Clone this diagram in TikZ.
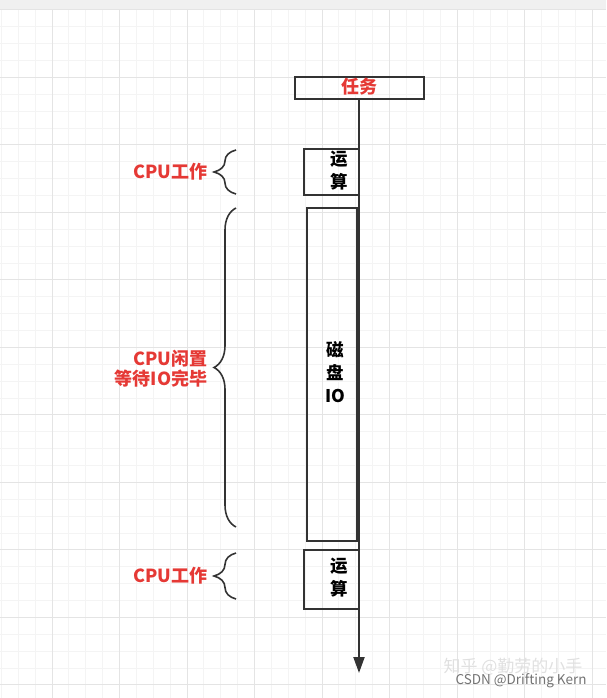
\documentclass[tikz,border=0pt]{standalone}
\usepackage{fontspec}
\setmainfont{Noto Sans CJK SC}
\usetikzlibrary{arrows.meta,positioning,decorations.pathreplacing}
\usepackage{xcolor}
\definecolor{cRed}{RGB}{229,57,53}
\definecolor{cLine}{RGB}{51,51,51}
\definecolor{cMinor}{RGB}{244,244,244}
\definecolor{cMajor}{RGB}{228,228,228}
\definecolor{cTop}{RGB}{240,240,240}

\begin{document}
\begin{tikzpicture}[x=1pt,y=-1pt,
  box/.style={draw=cLine,line width=2pt,inner sep=0},
  boxtxt/.style={font=\bfseries\fontsize{17.5}{23}\selectfont,align=center,inner sep=0},
  lbl/.style={text=cRed,font=\bfseries\fontsize{18}{20.5}\selectfont,align=right,inner sep=0},
  brc/.style={draw=cLine,line width=1.6pt,decorate,decoration={brace,amplitude=22pt,aspect=0.5}},
  flow/.style={draw=cLine,line width=2pt,-{Triangle[length=16pt,width=11pt]}}]
  \useasboundingbox (0,0) rectangle (606,698);
  % grid
  \fill[cTop] (0,0) rectangle (606,9.8);
  \foreach \i in {0,...,35} \draw[cMinor,line width=0.8pt] ({1.375+16.875*\i},9.8) -- ++(0,690);
  \foreach \j in {0,...,40} \draw[cMinor,line width=0.8pt] (0,{9.8+16.875*\j}) -- ++(606,0);
  \foreach \i in {0,...,8} \draw[cMajor,line width=0.8pt] ({52+67.5*\i},9.8) -- ++(0,690);
  \foreach \j in {0,...,10} \draw[cMajor,line width=0.8pt] (0,{9.8+67.5*\j}) -- ++(606,0);
  % boxes
  \node[box,minimum width=129pt,minimum height=22pt] (task) at (359,88) {};
  \node[lbl] (tasktxt) at ([yshift=1pt]task.center) {任务};
  \node[box,minimum width=55pt,minimum height=46pt] (calc1) at (331.5,172) {};
  \node[boxtxt] (calc1txt) at ([xshift=8pt,yshift=1pt]calc1.center) {运\\算};
  \node[box,minimum width=50pt,minimum height=333pt] (disk) at (332,374.5) {};
  \node[boxtxt] (disktxt) at ([xshift=3pt,yshift=2pt]disk.center) {磁\\盘\\IO};
  \node[box,minimum width=55pt,minimum height=59pt] (calc2) at (331.5,579.5) {};
  \node[boxtxt] (calc2txt) at ([xshift=8pt,yshift=2pt]calc2.center) {运\\算};
  % time line
  \coordinate (end) at (359,673);
  \draw[flow] (task.south) -- (end);
  % braces
  \coordinate (b1t) at (236,150); \coordinate (b1b) at (236,194);
  \coordinate (b2t) at (236,208); \coordinate (b2b) at (236,527);
  \coordinate (b3t) at (236,553); \coordinate (b3b) at (236,599);
  \draw[brc] (b1b) -- (b1t) node[lbl,midway,left=28pt] (work1) {CPU工作};
  \draw[brc] (b2b) -- (b2t) node[lbl,midway,left=28pt,yshift=-1pt] (idle) {CPU闲置\\等待IO完毕};
  \draw[brc] (b3b) -- (b3t) node[lbl,midway,left=28pt] (work2) {CPU工作};
  % watermarks
  \node[text=black!12,font=\fontsize{17}{20}\selectfont,inner sep=0] (zh) at (513,667) {知乎 @勤劳的小手};
  \node[text=black!55,font=\fontsize{13.5}{16}\selectfont,inner sep=0] (csdn) at (521,681) {CSDN @Drifting Kern};
\end{tikzpicture}
\end{document}
